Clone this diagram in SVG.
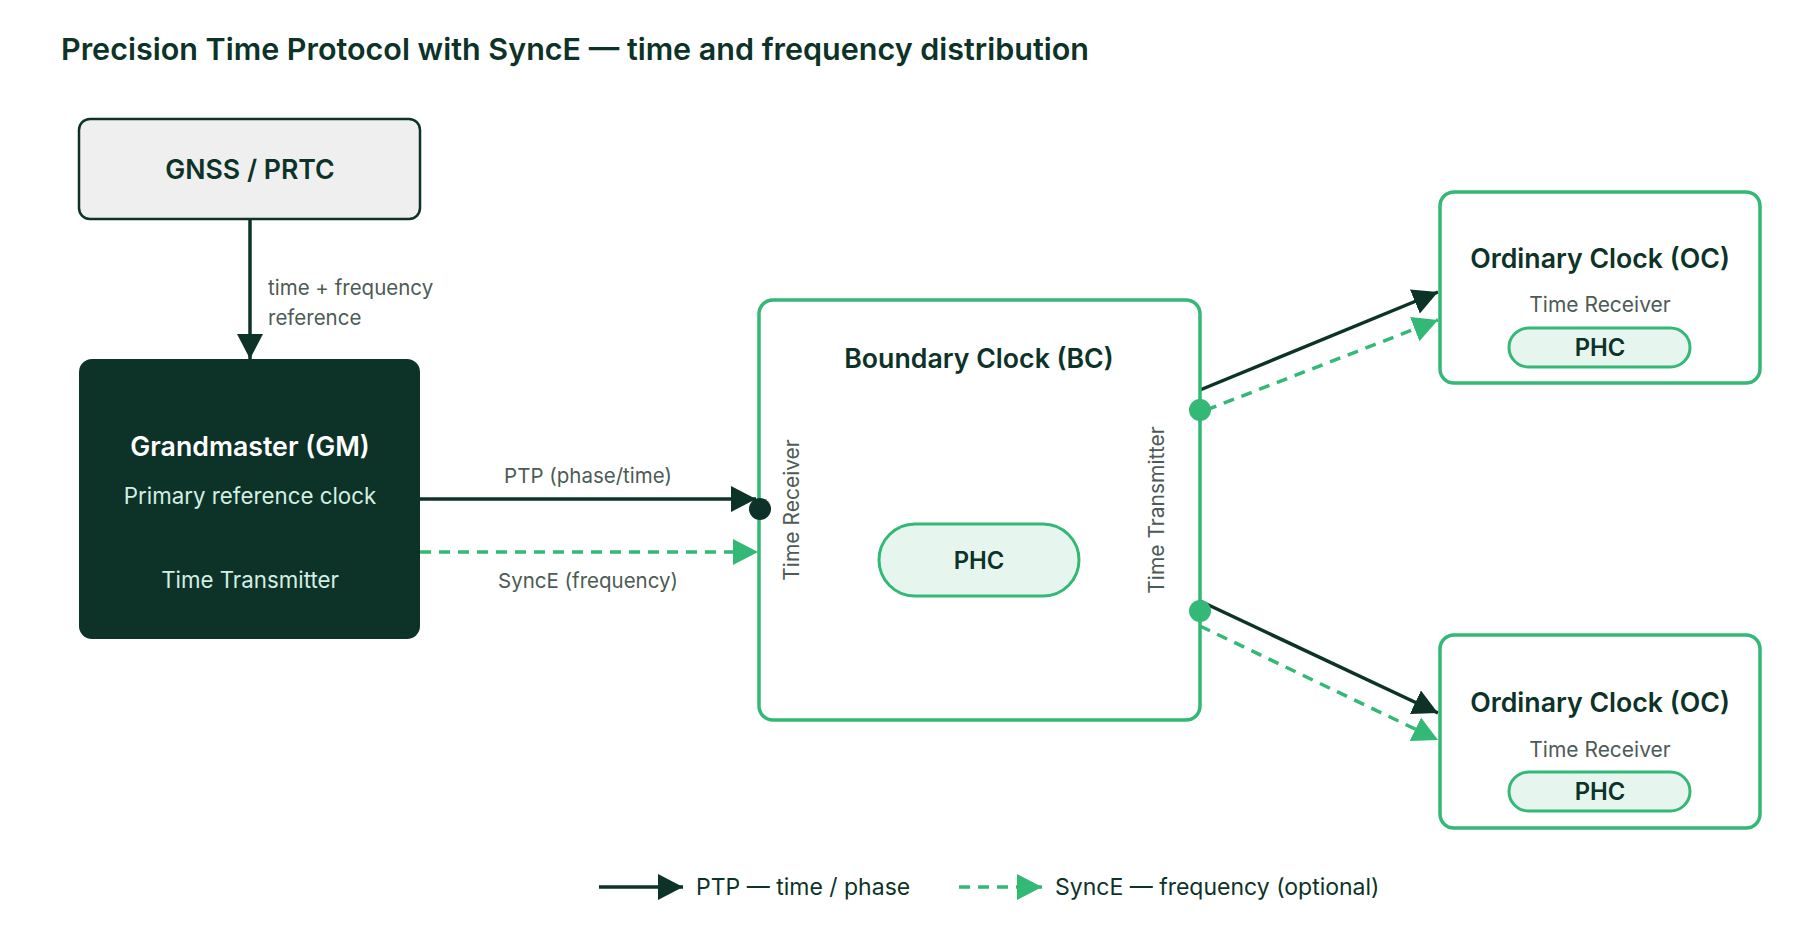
<svg xmlns="http://www.w3.org/2000/svg" width="1800" height="940" viewBox="0 0 1800 940">
<defs>
<style>
text{font-family:Inter,"Liberation Sans",Arial,sans-serif;}
.title{font-size:30.5px;font-weight:600;fill:#0d3329;}
.h{font-size:26.7px;font-weight:600;fill:#0d3329;text-anchor:middle;}
.sub{font-size:21px;fill:#4d5b56;text-anchor:middle;}
.gsub{font-size:22.3px;fill:#d4eee2;text-anchor:middle;}
.lbl{font-size:20.5px;fill:#4d5b56;}
.phc{font-size:23.8px;font-weight:600;fill:#0d3329;text-anchor:middle;}
.pill{fill:#e6f6ee;stroke:#33b876;stroke-width:3;}
.gbox{fill:#ffffff;stroke:#33b876;stroke-width:3.5;}
.ptp{stroke:#0d3329;stroke-width:3.5;fill:none;}
.sye{stroke:#33b876;stroke-width:3.5;fill:none;stroke-dasharray:11 8;}
.leg{font-size:23px;fill:#0d3329;}
</style>
<marker id="ad" markerUnits="userSpaceOnUse" markerWidth="26" markerHeight="28" refX="25" refY="14" orient="auto"><path d="M0,1 L25,14 L0,27 z" fill="#0d3329"/></marker>
<marker id="ag" markerUnits="userSpaceOnUse" markerWidth="26" markerHeight="28" refX="25" refY="14" orient="auto"><path d="M0,1 L25,14 L0,27 z" fill="#33b876"/></marker>
</defs>
<rect width="1800" height="940" fill="#ffffff"/>
<text class="title" x="61" y="60">Precision Time Protocol with SyncE — time and frequency distribution</text>

<g id="connectors">
<line class="ptp" x1="250" y1="219" x2="250" y2="359" marker-end="url(#ad)"/>
<text class="lbl" x="268" y="295">time + frequency</text>
<text class="lbl" x="268" y="325">reference</text>
<line class="ptp" x1="420" y1="499" x2="756" y2="499" marker-end="url(#ad)"/>
<text class="lbl" x="588" y="483" text-anchor="middle">PTP (phase/time)</text>
<line class="sye" x1="420" y1="552" x2="758" y2="552" marker-end="url(#ag)"/>
<text class="lbl" x="588" y="588" text-anchor="middle">SyncE (frequency)</text>
<line class="ptp" x1="1200" y1="390" x2="1438" y2="292" marker-end="url(#ad)"/>
<line class="sye" x1="1206" y1="410" x2="1438" y2="320" marker-end="url(#ag)"/>
<line class="ptp" x1="1200" y1="601" x2="1438" y2="713" marker-end="url(#ad)"/>
<line class="sye" x1="1200" y1="626" x2="1438" y2="740" marker-end="url(#ag)"/>
</g>

<g id="gnss">
<rect x="79" y="119" width="341" height="100" rx="11" fill="#efefef" stroke="#0d3329" stroke-width="2.5"/>
<text class="h" x="250" y="179">GNSS / PRTC</text>
</g>

<g id="gm">
<rect x="79" y="359" width="341" height="280" rx="13" fill="#0d3329"/>
<text class="h" x="250" y="456" style="fill:#ffffff">Grandmaster (GM)</text>
<text class="gsub" x="250" y="504">Primary reference clock</text>
<text class="gsub" x="250" y="588">Time Transmitter</text>
</g>

<g id="bc">
<rect class="gbox" x="759" y="300" width="441" height="420" rx="14"/>
<text class="h" x="979" y="368">Boundary Clock (BC)</text>
<rect class="pill" x="879" y="524" width="200" height="72" rx="36"/>
<text class="phc" x="979" y="569">PHC</text>
<text class="sub" transform="translate(799,510) rotate(-90)">Time Receiver</text>
<text class="sub" transform="translate(1164,510) rotate(-90)">Time Transmitter</text>
<circle cx="760" cy="509" r="11" fill="#0d3329"/>
<circle cx="1200" cy="410" r="11" fill="#33b876"/>
<circle cx="1200" cy="611" r="11" fill="#33b876"/>
</g>

<g id="oc1">
<rect class="gbox" x="1440" y="192" width="320" height="191" rx="14"/>
<text class="h" x="1600" y="268">Ordinary Clock (OC)</text>
<text class="sub" x="1600" y="312">Time Receiver</text>
<rect class="pill" x="1509" y="328" width="181" height="39" rx="19.5"/>
<text class="phc" x="1600" y="356">PHC</text>
</g>

<g id="oc2">
<rect class="gbox" x="1440" y="635" width="320" height="193" rx="14"/>
<text class="h" x="1600" y="712">Ordinary Clock (OC)</text>
<text class="sub" x="1600" y="757">Time Receiver</text>
<rect class="pill" x="1509" y="772" width="181" height="39" rx="19.5"/>
<text class="phc" x="1600" y="800">PHC</text>
</g>

<g id="legend">
<line class="ptp" x1="599" y1="887" x2="683" y2="887" marker-end="url(#ad)"/>
<text class="leg" x="696" y="895">PTP — time / phase</text>
<line class="sye" x1="959" y1="887" x2="1042" y2="887" marker-end="url(#ag)"/>
<text class="leg" x="1055" y="895">SyncE — frequency (optional)</text>
</g>
</svg>
